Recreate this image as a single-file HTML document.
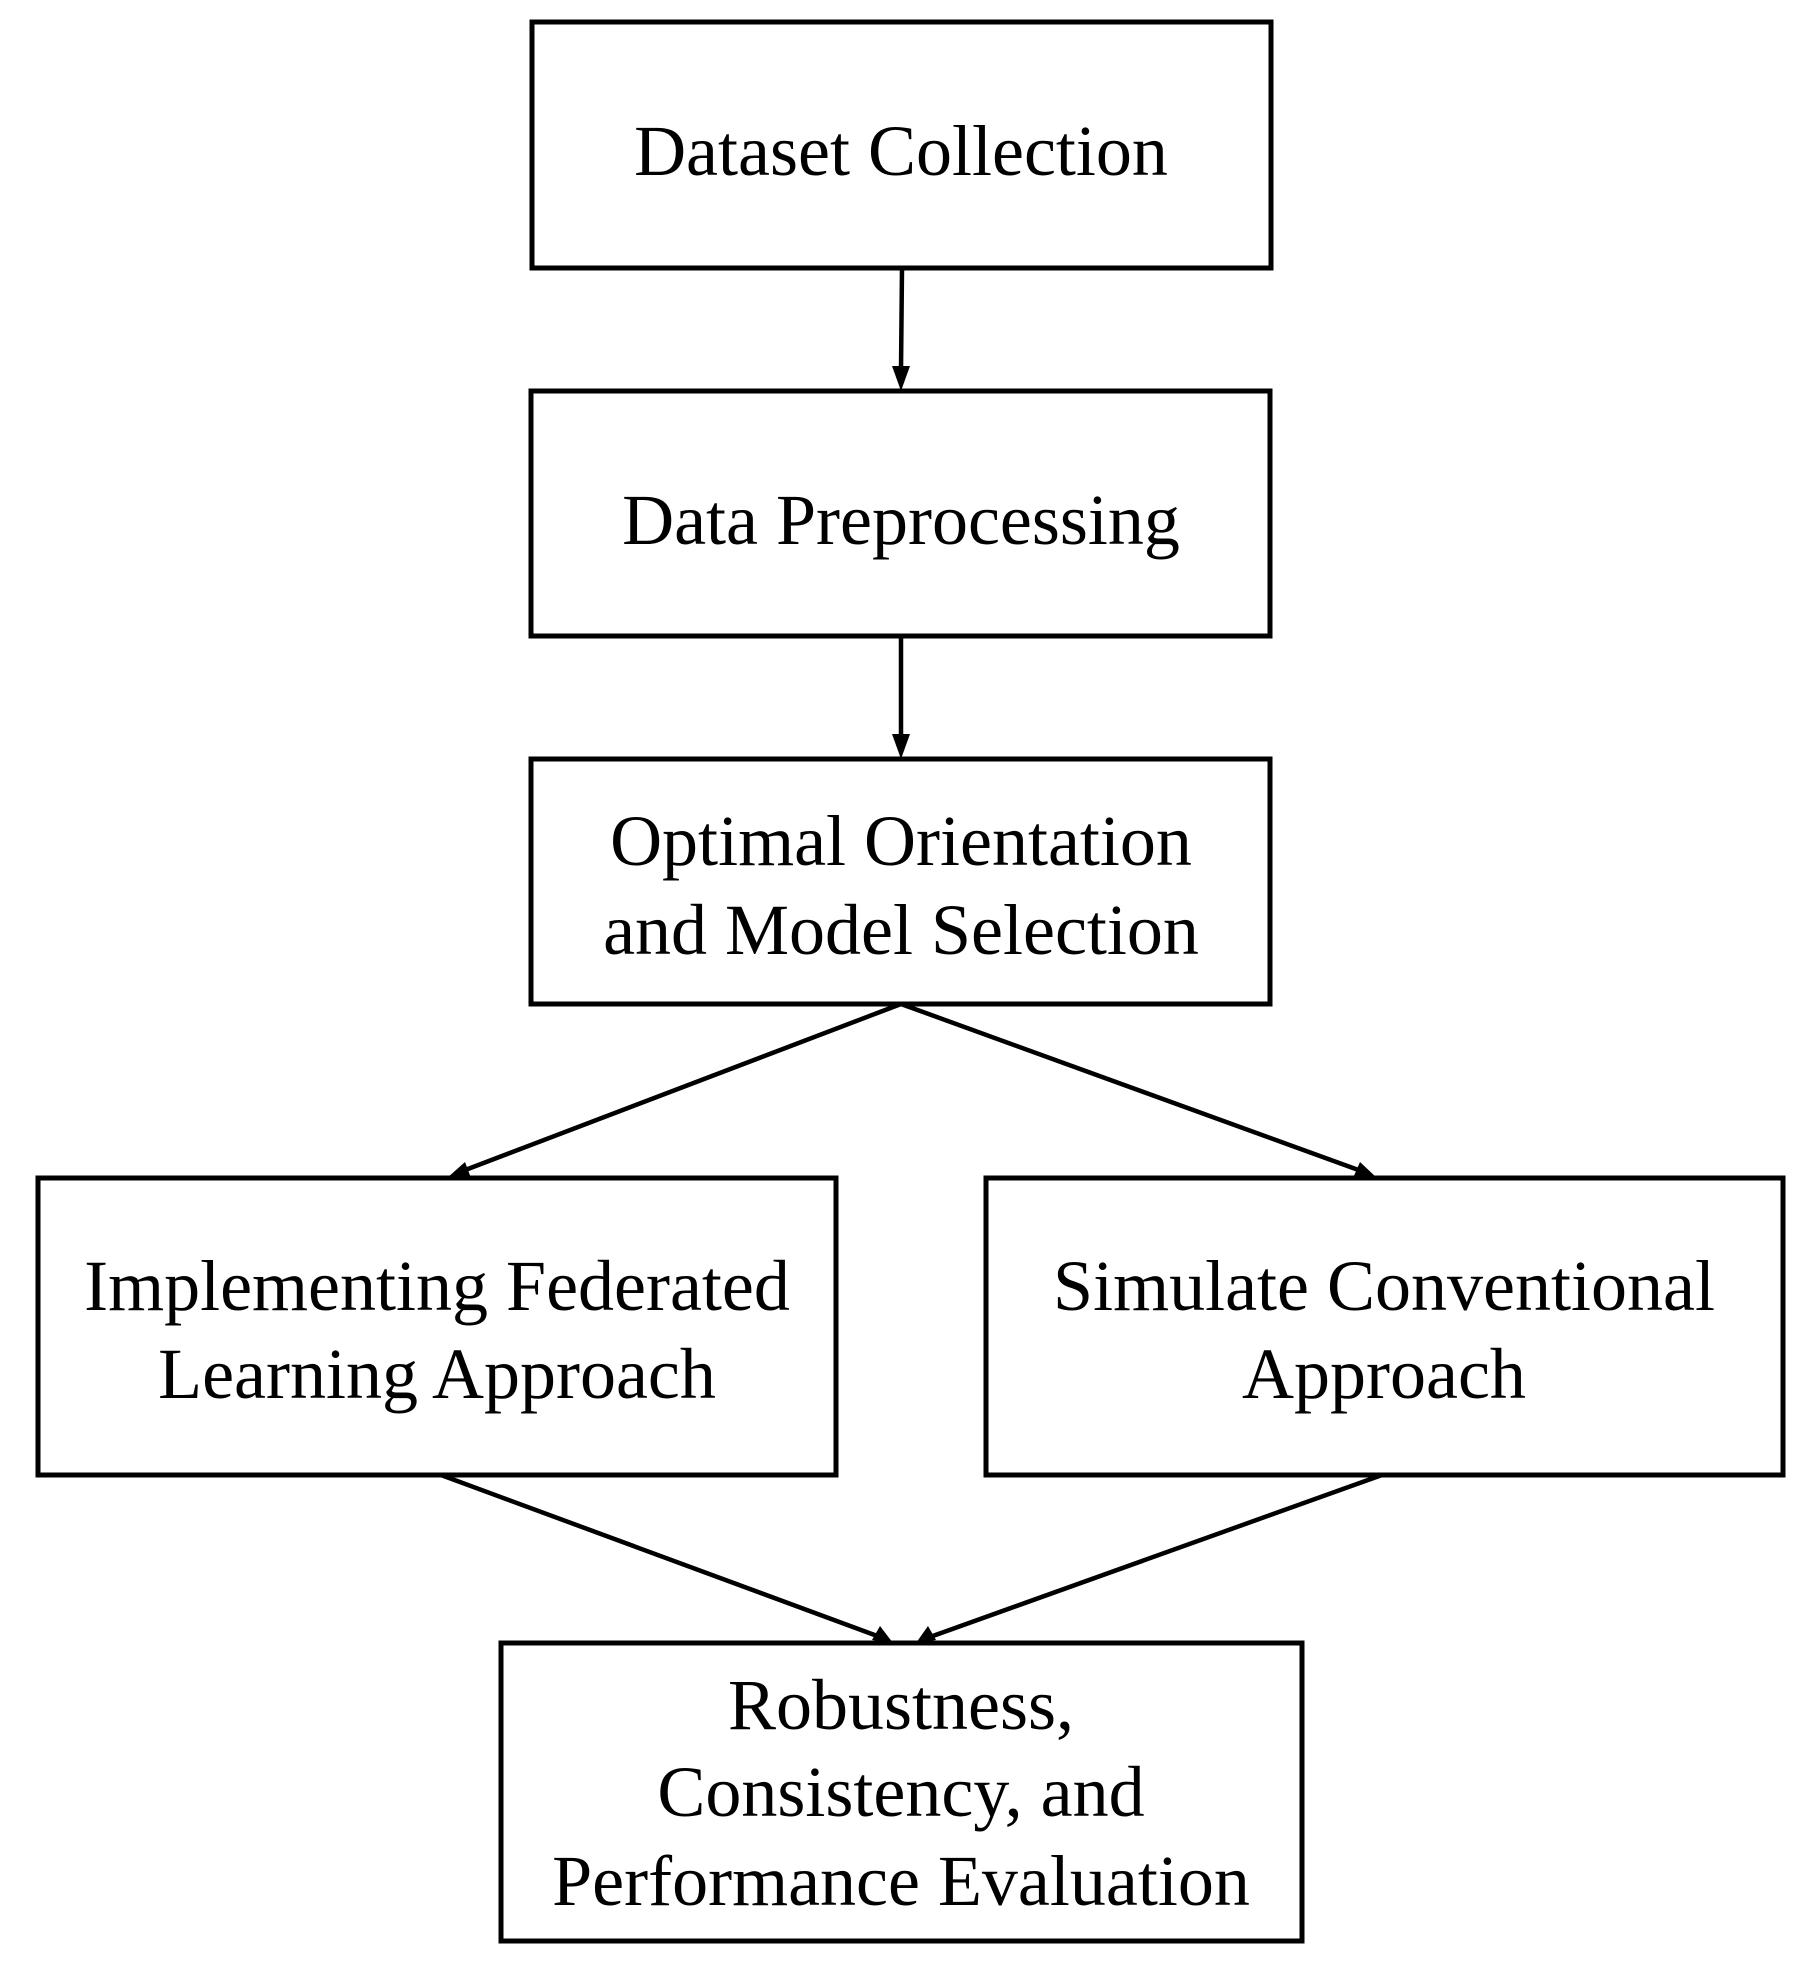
<!DOCTYPE html>
<html><head><meta charset="utf-8"><style>
html,body{margin:0;padding:0;background:#fff;}
svg{display:block;}
text{font-family:"Liberation Serif",serif;font-size:72px;fill:#000;text-anchor:middle;}
</style></head><body>
<svg width="1806" height="1974" viewBox="0 0 1806 1974" xmlns="http://www.w3.org/2000/svg">
<defs>
<marker id="a" markerWidth="10" markerHeight="8" refX="9" refY="4" orient="auto" markerUnits="userSpaceOnUse" viewBox="0 0 10 8">
</marker>
</defs>
<g fill="none" stroke="#000" stroke-width="5">
<rect x="532" y="22" width="739" height="246"/>
<rect x="531" y="391" width="739" height="245"/>
<rect x="531" y="759" width="739" height="245"/>
<rect x="38" y="1178" width="798" height="297"/>
<rect x="986" y="1178" width="797" height="297"/>
<rect x="501" y="1643" width="801" height="298"/>
<g stroke-width="4.5">
<line x1="902" y1="268" x2="901" y2="370"/>
<line x1="901" y1="636" x2="901" y2="740"/>
<line x1="901" y1="1004" x2="460" y2="1172"/>
<line x1="901" y1="1004" x2="1364" y2="1172"/>
<line x1="441" y1="1475" x2="880" y2="1637"/>
<line x1="1382" y1="1475" x2="930" y2="1637"/>
</g>
</g>
<g fill="#000">
<polygon points="901,391 892,366 910,366"/>
<polygon points="901,759 892,734 910,734"/>
<polygon points="447,1178 465,1162 471,1178"/>
<polygon points="1377,1178 1353,1178 1360,1162"/>
<polygon points="893,1643 872,1640 880,1626"/>
<polygon points="916,1643 928,1626 936,1640"/>
</g>
<text x="901" y="175">Dataset Collection</text>
<text x="901" y="544">Data Preprocessing</text>
<text x="901" y="865">Optimal Orientation</text>
<text x="901" y="954">and Model Selection</text>
<text x="437" y="1310">Implementing Federated</text>
<text x="437" y="1398">Learning Approach</text>
<text x="1384" y="1310">Simulate Conventional</text>
<text x="1384" y="1398">Approach</text>
<text x="901" y="1729">Robustness,</text>
<text x="901" y="1816">Consistency, and</text>
<text x="901" y="1905">Performance Evaluation</text>
</svg>
</body></html>
